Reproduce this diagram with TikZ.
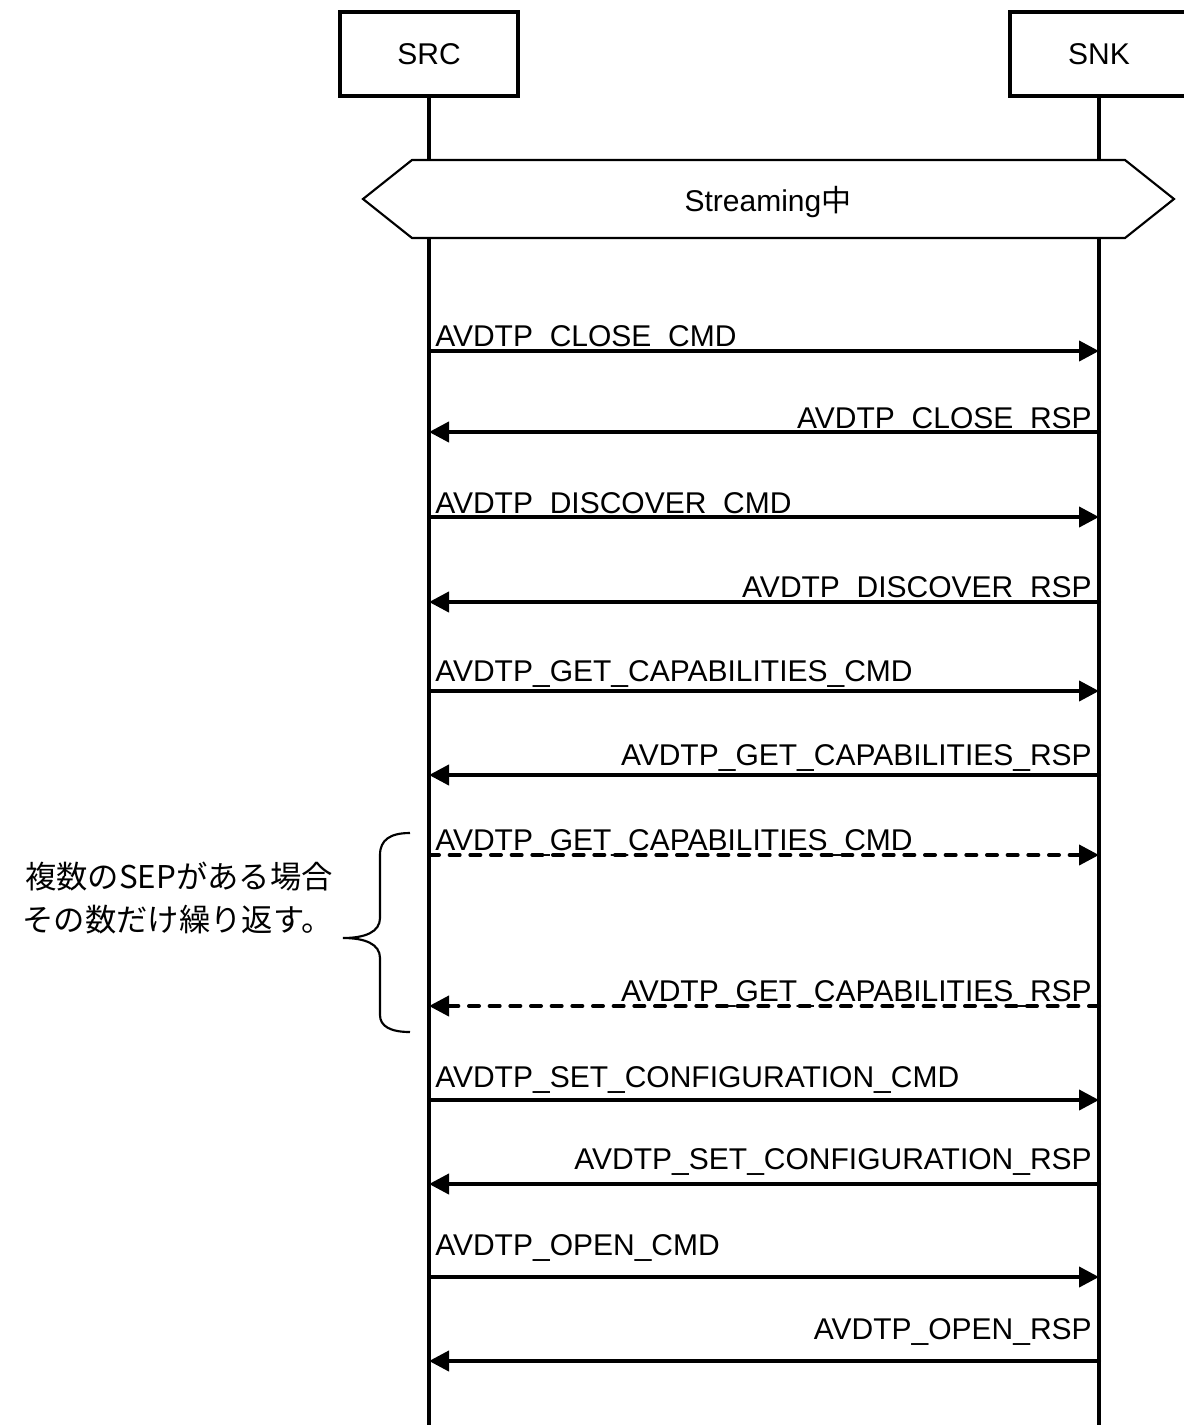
\documentclass[tikz,border=0pt]{standalone}
\usepackage{fontspec}
\setmainfont{Liberation Sans}
\newfontfamily\jp{Noto Sans CJK JP}
\usetikzlibrary{arrows.meta}
\begin{document}
\begin{tikzpicture}[x=0.75pt,y=-0.75pt,
  every node/.style={font=\fontsize{22.5}{27}\selectfont, inner sep=0pt},
  actor/.style={draw, line width=3pt, minimum width=133.5pt, minimum height=63pt, fill=white},
  life/.style={line width=2.5pt},
  msg/.style={line width=3pt, line cap=round, -{Triangle[length=15pt,width=15pt]}},
  dmsg/.style={msg, dash pattern=on 7.5pt off 8pt},
  lab/.style={anchor=base west},
  rlab/.style={anchor=base east},
  hexa/.style={draw, line width=1.6pt, fill=white, line join=miter},
  bracestyle/.style={line width=1.6pt}]
\useasboundingbox (0,0) rectangle (1184,1425);
\clip (0,0) rectangle (1184,1425);

% actors
\node[actor] (src) at (429,54) {SRC};
\node[actor] (snk) at (1099,54) {SNK};
\coordinate (srcend) at (429,1430);
\coordinate (snkend) at (1099,1430);
\draw[life] (src.south) -- (srcend);
\draw[life] (snk.south) -- (snkend);

% streaming state
\draw[hexa] (363,199) -- (412,160) -- (1125,160) -- (1174,199) -- (1125,238) -- (412,238) -- cycle;
\node (stream) at (768,202) {Streaming{\jp 中}};

% message end points
\foreach \n/\y in {1/351,2/432,3/517,4/602,5/691,6/775,7/855,8/1006,9/1100,10/1184,11/1277,12/1361}{
  \coordinate (a\n) at (429,\y);
  \coordinate (b\n) at (1099,\y);
}

\draw[msg] (a1) -- (b1);
\node[lab] (l1) at (435,346) {AVDTP\_CLOSE\_CMD};
\draw[msg] (b2) -- (a2);
\node[rlab] (l2) at (1092,428) {AVDTP\_CLOSE\_RSP};
\draw[msg] (a3) -- (b3);
\node[lab] (l3) at (435,513) {AVDTP\_DISCOVER\_CMD};
\draw[msg] (b4) -- (a4);
\node[rlab] (l4) at (1092,597) {AVDTP\_DISCOVER\_RSP};
\draw[msg] (a5) -- (b5);
\node[lab] (l5) at (435,681) {AVDTP\_GET\_CAPABILITIES\_CMD};
\draw[msg] (b6) -- (a6);
\node[rlab] (l6) at (1092,765) {AVDTP\_GET\_CAPABILITIES\_RSP};
\draw[dmsg] (a7) -- (b7);
\node[lab] (l7) at (435,850) {AVDTP\_GET\_CAPABILITIES\_CMD};
\draw[dmsg] (b8) -- (a8);
\node[rlab] (l8) at (1092,1001) {AVDTP\_GET\_CAPABILITIES\_RSP};
\draw[msg] (a9) -- (b9);
\node[lab] (l9) at (435,1087) {AVDTP\_SET\_CONFIGURATION\_CMD};
\draw[msg] (b10) -- (a10);
\node[rlab] (l10) at (1092,1169) {AVDTP\_SET\_CONFIGURATION\_RSP};
\draw[msg] (a11) -- (b11);
\node[lab] (l11) at (435,1255) {AVDTP\_OPEN\_CMD};
\draw[msg] (b12) -- (a12);
\node[rlab] (l12) at (1092,1339) {AVDTP\_OPEN\_RSP};

% repetition note
\draw[bracestyle] (410,833) .. controls (390,833) and (380,840) .. (380,855) -- (380,918)
  .. controls (380,932) and (365,938) .. (343,938)
  .. controls (365,938) and (380,944) .. (380,958) -- (380,1015)
  .. controls (380,1026) and (390,1032) .. (410,1032);
\node[align=right, anchor=east, font=\jp\fontsize{23.5}{32}\selectfont] (note) at (333,898) {複数のSEPがある場合\\その数だけ繰り返す。};
\end{tikzpicture}
\end{document}
